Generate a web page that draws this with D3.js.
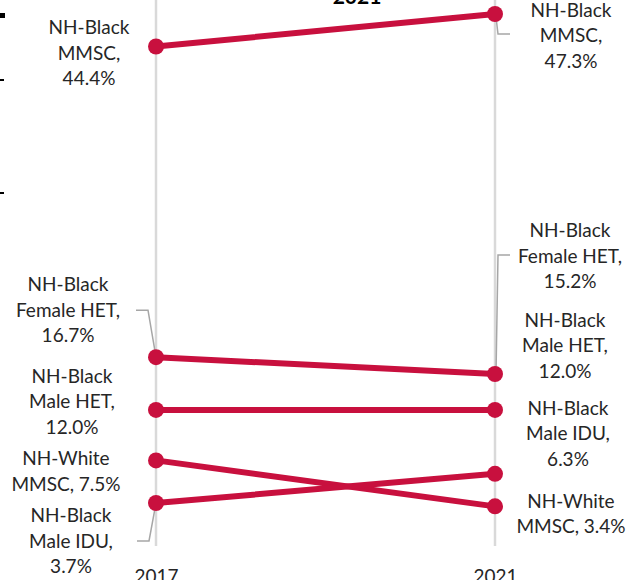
<!DOCTYPE html>
<html>
<head>
<meta charset="utf-8">
<script src="https://cdn.jsdelivr.net/npm/d3@7"></script>
<style>
  body { margin: 0; background: #fff; }
  svg { display: block; font-family: "Lato", "Open Sans", sans-serif; }
</style>
</head>
<body>
<svg width="636" height="580" id="svg"></svg>
<script>
  // data
  const years = ["2017", "2021"];
  const groups = ["NH-Black MMSC", "NH-Black Female HET", "NH-Black Male HET", "NH-White MMSC", "NH-Black Male IDU"];
  const values2017 = [44.4, 16.7, 12.0, 7.5, 3.7];
  const values2021 = [47.3, 15.2, 12.0, 3.4, 6.3];
  const title = "2021";

  // label line breaks, per group (text only)
  const labelLines = {
    "NH-Black MMSC": ["NH-Black", "MMSC,"],
    "NH-Black Female HET": ["NH-Black", "Female HET,"],
    "NH-Black Male HET": ["NH-Black", "Male HET,"],
    "NH-White MMSC": ["NH-White", "MMSC,"],
    "NH-Black Male IDU": ["NH-Black", "Male IDU,"]
  };

  // manual label placement (offset from the point), like the original
  const leftPos = [
    {cx: 89, dy: -12.5}, {cx: 68, dy: -66}, {cx: 72, dy: -27}, {cx: 66, dy: 5}, {cx: 71, dy: 19}
  ];
  const rightPos = [
    {cx: 571, dy: 3}, {cx: 570, dy: -137}, {cx: 565, dy: -83}, {cx: 571, dy: 1.5}, {cx: 568, dy: -59}
  ];
  const lineH = 25.5;

  const svg = d3.select("#svg");
  const red = "#C8103E";

  const x = d3.scalePoint().domain(years).range([156, 495]);
  const y = d3.scaleLinear().domain([0, 50]).range([544.5, -16.3]);

  // stray ticks from neighbouring panel at left edge
  svg.append("rect").attr("x", 0).attr("y", 13).attr("width", 5).attr("height", 5).attr("fill", "#000");
  svg.append("rect").attr("x", 0).attr("y", 79).attr("width", 4).attr("height", 2).attr("fill", "#000");
  svg.append("rect").attr("x", 0).attr("y", 192).attr("width", 4).attr("height", 2).attr("fill", "#000");

  // vertical year gridlines
  svg.append("g").selectAll("line")
    .data(years)
    .enter().append("line")
      .attr("x1", d => x(d)).attr("x2", d => x(d))
      .attr("y1", 0).attr("y2", 546)
      .attr("stroke", "#D9D9D9").attr("stroke-width", 2.5);

  // year labels along bottom
  const xAxis = svg.append("g")
    .attr("transform", "translate(0,546)")
    .call(d3.axisBottom(x).tickSize(0).tickPadding(0));
  xAxis.select(".domain").remove();
  xAxis.selectAll("text")
    .attr("y", 37).attr("dy", 0)
    .attr("font-size", 19).attr("font-family", "Lato, sans-serif")
    .attr("fill", "#262626");

  // title (cut at top)
  svg.append("text")
    .attr("x", 357).attr("y", 4)
    .attr("text-anchor", "middle")
    .attr("font-size", 21).attr("font-weight", "bold")
    .attr("fill", "#000")
    .text(title);

  const rows = groups.map((g, i) => ({ group: g, a: values2017[i], b: values2021[i], i: i }));

  // leader lines
  const leaders = [
    { side: 1, i: 0, pts: [[1, 3], [3, 20], [15, 20]] },
    { side: 0, i: 1, pts: [[-20, -47], [-8, -47], [0, 0]] },
    { side: 1, i: 1, pts: [[1, 0], [3, -119], [15, -119]] },
    { side: 0, i: 4, pts: [[0, 0], [-7, 38], [-19, 38]] }
  ];
  svg.append("g").selectAll("polyline")
    .data(leaders)
    .enter().append("polyline")
      .attr("points", d => {
        const px = x(years[d.side]);
        const py = y(d.side ? values2021[d.i] : values2017[d.i]);
        return d.pts.map(p => (px + p[0]) + "," + (py + p[1])).join(" ");
      })
      .attr("fill", "none").attr("stroke", "#A6A6A6").attr("stroke-width", 1.5);

  // slope lines
  svg.append("g").selectAll("line")
    .data(rows)
    .enter().append("line")
      .attr("x1", x(years[0])).attr("y1", d => y(d.a))
      .attr("x2", x(years[1])).attr("y2", d => y(d.b))
      .attr("stroke", red).attr("stroke-width", 6).attr("stroke-linecap", "round");

  // dots
  const dots = [];
  rows.forEach(d => { dots.push({ yr: years[0], v: d.a }); dots.push({ yr: years[1], v: d.b }); });
  svg.append("g").selectAll("circle")
    .data(dots)
    .enter().append("circle")
      .attr("cx", d => x(d.yr)).attr("cy", d => y(d.v))
      .attr("r", 8).attr("fill", red);

  // data labels
  function drawLabels(side) {
    const pos = side ? rightPos : leftPos;
    rows.forEach(d => {
      const v = side ? d.b : d.a;
      const lines = labelLines[d.group].slice();
      const pct = v.toFixed(1) + "%";
      if (d.group === "NH-White MMSC") lines[1] = lines[1] + " " + pct;
      else lines.push(pct);
      const t = svg.append("text")
        .attr("text-anchor", "middle")
        .attr("font-size", 19)
        .attr("fill", "#262626");
      lines.forEach((l, k) => {
        t.append("tspan")
          .attr("x", pos[d.i].cx)
          .attr("y", y(v) + pos[d.i].dy + k * lineH)
          .text(l);
      });
    });
  }
  drawLabels(0);
  drawLabels(1);
</script>
</body>
</html>
